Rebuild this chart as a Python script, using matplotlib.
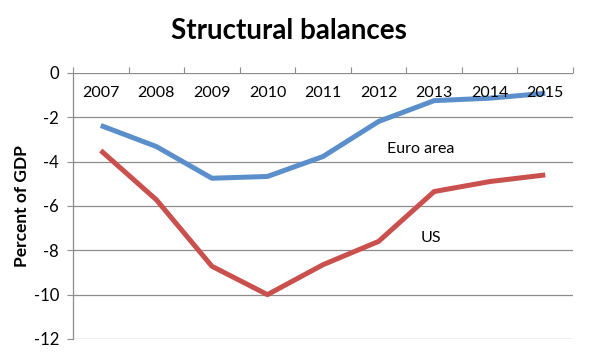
import matplotlib

matplotlib.use("Agg")
import matplotlib.pyplot as plt
from matplotlib.ticker import MultipleLocator

plt.rcParams["font.family"] = ["Lato", "DejaVu Sans"]

years = ["2007", "2008", "2009", "2010", "2011", "2012", "2013", "2014", "2015"]
euro_area = [-2.37, -3.32, -4.75, -4.67, -3.77, -2.19, -1.25, -1.14, -0.92]
us = [-3.5, -5.72, -8.72, -10.0, -8.65, -7.6, -5.35, -4.9, -4.6]

fig = plt.figure(figsize=(5.92, 3.61), dpi=100)
ax = fig.add_axes([0.1233, 0.061, 0.8447, 0.737])

x = list(range(len(years)))
ax.plot(x, euro_area, color="#5A8FCC", linewidth=3.6, solid_capstyle="butt")
ax.plot(x, us, color="#C9504D", linewidth=3.6, solid_capstyle="butt")

ax.set_xlim(-0.5, len(years) - 0.5)
ax.set_ylim(-12, 0)
ax.yaxis.set_major_locator(MultipleLocator(2))
ax.grid(axis="y", color="#8c8c8c", linewidth=0.9)
ax.set_axisbelow(True)

for side in ("top", "right", "bottom"):
    ax.spines[side].set_visible(False)
ax.spines["left"].set_color("#8c8c8c")
ax.spines["left"].set_linewidth(0.9)

ax.tick_params(axis="y", direction="out", length=4, color="#8c8c8c",
               labelsize=12, pad=6)
ax.set_yticks(range(-12, 1, 2))
ax.set_yticklabels([str(v) for v in range(-12, 1, 2)])

# category axis sits at y=0 with boundary ticks pointing up
ax.xaxis.tick_top()
ax.set_xticks([i - 0.5 for i in range(len(years) + 1)])
ax.set_xticklabels([])
ax.tick_params(axis="x", direction="out", length=4, color="#8c8c8c", top=True)

for i, yr in enumerate(years):
    ax.text(i, -0.9, yr, ha="center", va="center", fontsize=11.5)

ax.text(5.75, -3.45, "Euro area", ha="center", va="center", fontsize=11.5)
ax.text(5.95, -7.45, "US", ha="center", va="center", fontsize=11.5)

ax.set_ylabel("Percent of GDP", fontsize=12.5, fontweight="bold", labelpad=3)
fig.text(0.488, 0.915, "Structural balances", ha="center", va="center",
         fontsize=20, fontweight="bold")

fig.savefig("out.png", dpi=100)
